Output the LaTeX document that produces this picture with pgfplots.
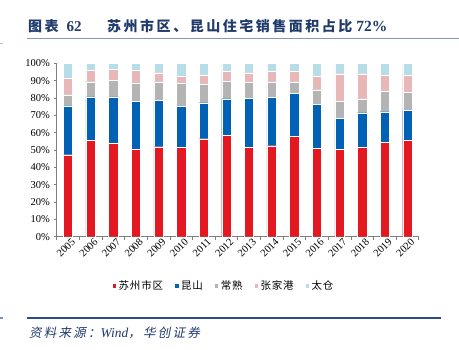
\documentclass[border=0pt]{standalone}
\usepackage{fontspec}
\setmainfont{Liberation Serif}
\newfontfamily\cjk{Noto Sans CJK SC}
\newfontfamily\cjktitle{Noto Sans CJK SC}[LetterSpace=18]
\newfontfamily\cjklegend{Noto Sans CJK SC}[LetterSpace=8]
\newfontfamily\cjksrc{Noto Sans CJK SC}[LetterSpace=18,FakeSlant=0.2]
\usepackage{pgfplots}
\usepackage{pgfplotstable}
\pgfplotsset{compat=1.18}
\definecolor{cRed}{HTML}{E31820}
\definecolor{cBlue}{HTML}{0061B5}
\definecolor{cGray}{HTML}{B4B4B4}
\definecolor{cPink}{HTML}{E8B7B7}
\definecolor{cLBlue}{HTML}{B7DDE8}
\definecolor{titleblue}{HTML}{1F3A6B}
\definecolor{lineblue}{HTML}{7F98BF}
\definecolor{srcline}{HTML}{2B4C8C}
\definecolor{axisgray}{HTML}{7F7F7F}
\pgfplotstableread{
x a b c d e
0 47.3 28.1 6.5 9.6 8.5
1 55.6 25.0 8.8 6.4 4.2
2 53.8 26.8 9.4 6.7 3.3
3 50.6 27.3 10.4 7.5 4.2
4 51.9 26.6 10.9 5.2 5.4
5 51.7 23.3 13.3 4.0 7.7
6 56.5 20.8 10.4 5.4 6.9
7 58.5 21.1 10.0 5.6 4.8
8 51.5 28.3 9.2 5.6 5.4
9 52.5 27.7 8.8 6.2 4.8
10 57.7 24.8 6.9 6.2 4.4
11 50.8 25.5 8.5 7.5 7.7
12 50.4 17.7 9.8 16.1 6.0
13 51.5 20.0 8.1 14.4 6.0
14 54.4 17.7 11.6 9.2 7.1
15 55.6 17.1 10.4 9.8 7.1
}\data
\begin{document}
\begin{tikzpicture}[x=1pt,y=1pt]
\path[use as bounding box] (0,0) rectangle (459,350);
% title
\node[anchor=base west, inner sep=0pt, text=titleblue] at (28,318)
  {\cjktitle\bfseries\fontsize{14}{16}\selectfont 图表\hspace{8pt}{\rmfamily\bfseries\fontsize{15}{16}\selectfont 62}};
\node[anchor=base west, inner sep=0pt, text=titleblue] at (107,318)
  {\cjktitle\bfseries\fontsize{14}{16}\selectfont 苏州市区、昆山住宅销售面积占比\hspace{4pt}{\rmfamily\bfseries\fontsize{15.5}{16}\selectfont 72\%}};
\draw[lineblue, line width=0.8pt] (27,311.3) -- (459,311.3);
\draw[lineblue!60, line width=0.8pt] (0,307) -- (3,307);
% source
\draw[srcline, line width=1.2pt] (27,32) -- (441,32);
\draw[srcline!60, line width=1.2pt] (0,32) -- (3,32);
\node[anchor=base west, inner sep=0pt, text=titleblue] at (29,12)
  {\cjksrc\fontsize{12.5}{14}\selectfont 资料来源：{\rmfamily\itshape\fontsize{13.5}{14}\selectfont Wind}，华创证券};
\begin{axis}[
  at={(68pt,113.3pt)}, anchor=origin,
  scale only axis, width=362pt, height=173.4pt,
  ybar stacked, bar width=9.3pt,
  xmin=-0.5, xmax=15.5, ymin=0, ymax=100,
  axis x line*=bottom, axis y line*=left,
  axis line style={axisgray, line width=0.6pt},
  xtick={0,...,15},
  xticklabels={2005,2006,2007,2008,2009,2010,2011,2012,2013,2014,2015,2016,2017,2018,2019,2020},
  major x tick style={draw=none},
  minor xtick={-0.5,0.5,...,15.5},
  minor x tick style={axisgray, line width=0.6pt},
  ytick={0,10,...,100},
  y tick style={axisgray, line width=0.6pt},
  tick align=outside, major tick length=3pt, minor tick length=3pt,
  yticklabel={\pgfmathprintnumber{\tick}\%},
  /pgf/number format/assume math mode=true,
  ticklabel style={font=\fontsize{10.5}{12}\selectfont, text=black},
  xticklabel style={rotate=45, anchor=north east, inner sep=0.5pt, xshift=4pt},
  yticklabel style={inner sep=1.5pt, xshift=-2pt},
  legend columns=5,
  legend style={draw=none, fill=none, at={(0.461,-0.284)}, anchor=center,
    font=\cjklegend\fontsize{10.5}{12}\selectfont, inner sep=0pt,
    /tikz/every even column/.append style={column sep=9pt}},
  legend image code/.code={\fill[#1] (0pt,-2.3pt) rectangle (4.6pt,2.3pt);},
  every axis plot/.append style={draw=white, line width=0.3pt},
]
\addplot[fill=cRed] table[x=x,y=a]{\data};
\addplot[fill=cBlue] table[x=x,y=b]{\data};
\addplot[fill=cGray] table[x=x,y=c]{\data};
\addplot[fill=cPink] table[x=x,y=d]{\data};
\addplot[fill=cLBlue] table[x=x,y=e]{\data};
\legend{苏州市区,昆山,常熟,张家港,太仓}
\end{axis}
\end{tikzpicture}
\end{document}
